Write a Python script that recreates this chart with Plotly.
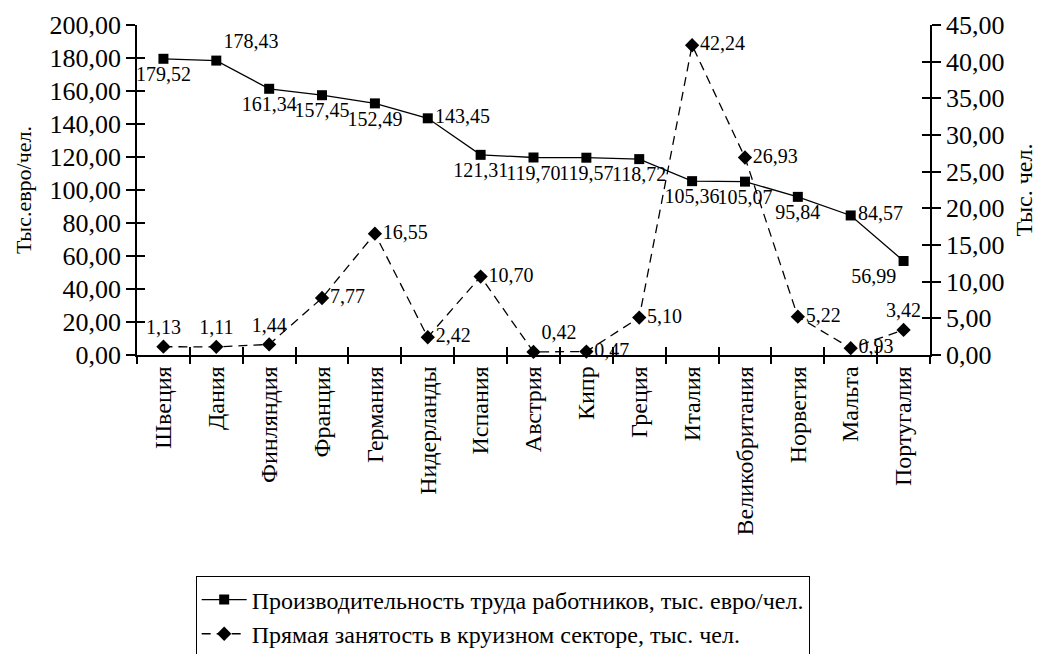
import plotly.graph_objects as go

categories = ["Швеция", "Дания", "Финляндия", "Франция", "Германия", "Нидерланды",
              "Испания", "Австрия", "Кипр", "Греция", "Италия", "Великобритания",
              "Норвегия", "Мальта", "Португалия"]
productivity = [179.52, 178.43, 161.34, 157.45, 152.49, 143.45, 121.31, 119.70,
                119.57, 118.72, 105.36, 105.07, 95.84, 84.57, 56.99]
employment = [1.13, 1.11, 1.44, 7.77, 16.55, 2.42, 10.70, 0.42, 0.47, 5.10,
              42.24, 26.93, 5.22, 0.93, 3.42]
left_ticks = [0, 20, 40, 60, 80, 100, 120, 140, 160, 180, 200]
right_ticks = [0, 5, 10, 15, 20, 25, 30, 35, 40, 45]

prod_pos = ["bottom center", "top right", "bottom center", "bottom center", "bottom center",
            "middle right", "bottom center", "bottom center", "bottom center", "bottom center",
            "bottom center", "bottom center", "bottom center", "middle right", "bottom left"]
emp_pos = ["top center", "top center", "top center", "middle right", "middle right",
           "middle right", "middle right", "top right", "middle right", "middle right",
           "middle right", "middle right", "middle right", "middle right", "top center"]

FONT = "Liberation Serif"
idx = list(range(len(categories)))

fig = go.Figure()
fig.add_trace(go.Scatter(
    x=idx, y=productivity, name="Производительность труда работников, тыс. евро/чел.",
    mode="lines+markers+text", line=dict(color="black", width=1.3),
    marker=dict(symbol="square", size=10, color="black"),
    text=[f"{v:.2f}".replace(".", ",") for v in productivity],
    textposition=prod_pos, textfont=dict(family=FONT, size=20, color="black"),
    yaxis="y", cliponaxis=False))
fig.add_trace(go.Scatter(
    x=idx, y=employment, name="Прямая занятость в круизном секторе, тыс. чел.",
    mode="lines+markers+text", line=dict(color="black", width=1.3, dash="9px,6px"),
    marker=dict(symbol="diamond", size=11, color="black"),
    text=[f"{v:.2f}".replace(".", ",") for v in employment],
    textposition=emp_pos, textfont=dict(family=FONT, size=20, color="black"),
    yaxis="y2", cliponaxis=False))

bounds = [i - 0.5 for i in range(len(categories) + 1)]

fig.update_layout(
    width=1034, height=646,
    margin=dict(l=129, r=112, t=17, b=299, autoexpand=False),
    paper_bgcolor="white", plot_bgcolor="white",
    separators=", ",
    font=dict(family=FONT, size=22, color="black"),
    showlegend=True,
    legend=dict(x=0.074, y=-0.671, xanchor="left", yanchor="top",
                bordercolor="black", borderwidth=1, bgcolor="white",
                font=dict(family=FONT, size=24, color="black"),
                tracegroupgap=0, itemwidth=45),
    xaxis=dict(range=[-0.5, len(categories) - 0.5], tickmode="array",
               tickvals=idx, ticktext=categories, tickangle=-90,
               ticks="", showline=True, linecolor="black", linewidth=1.5,
               showgrid=False, zeroline=False, automargin=False,
               tickfont=dict(family=FONT, size=24)),
    xaxis2=dict(range=[-0.5, len(categories) - 0.5], overlaying="x", side="bottom",
                anchor="y", tickmode="array", tickvals=bounds, ticks="outside",
                ticklen=8, tickwidth=1.5, tickcolor="black", showticklabels=False,
                showgrid=False, zeroline=False, showline=False, automargin=False),
    xaxis3=dict(range=[-0.5, len(categories) - 0.5], overlaying="x", side="bottom",
                anchor="y", tickmode="array", tickvals=bounds, ticks="inside",
                ticklen=8, tickwidth=1.5, tickcolor="black", showticklabels=False,
                showgrid=False, zeroline=False, showline=False, automargin=False),
    yaxis=dict(range=[0, 200], tickmode="array", tickvals=left_ticks,
               tickformat=".2f", ticks="outside", ticklen=9, tickwidth=1.5,
               tickcolor="black", showline=True, linecolor="black", linewidth=1.5,
               showgrid=False, zeroline=False, automargin=False,
               title=dict(text="Тыс.евро/чел.", font=dict(family=FONT, size=22), standoff=12),
               tickfont=dict(family=FONT, size=26)),
    yaxis2=dict(range=[0, 45], overlaying="y", side="right", tickmode="array",
                tickvals=right_ticks, tickformat=".2f", ticks="outside", ticklen=9,
                tickwidth=1.5, tickcolor="black", showline=True, linecolor="black",
                linewidth=1.5, showgrid=False, zeroline=False, automargin=False,
                title=dict(text="Тыс. чел.", font=dict(family=FONT, size=24), standoff=12),
                tickfont=dict(family=FONT, size=26)),
    yaxis3=dict(range=[0, 200], overlaying="y", side="left", tickmode="array",
                tickvals=left_ticks, ticks="inside", ticklen=8, tickwidth=1.5,
                tickcolor="black", showticklabels=False, showgrid=False,
                zeroline=False, showline=False, automargin=False),
    yaxis4=dict(range=[0, 45], overlaying="y", side="right", tickmode="array",
                tickvals=right_ticks, ticks="inside", ticklen=8, tickwidth=1.5,
                tickcolor="black", showticklabels=False, showgrid=False,
                zeroline=False, showline=False, automargin=False),
)

# invisible traces to activate helper axes
fig.add_trace(go.Scatter(x=[0], y=[0], xaxis="x2", yaxis="y", mode="markers",
                         marker=dict(opacity=0), showlegend=False, hoverinfo="skip"))
fig.add_trace(go.Scatter(x=[0], y=[0], xaxis="x3", yaxis="y", mode="markers",
                         marker=dict(opacity=0), showlegend=False, hoverinfo="skip"))
fig.add_trace(go.Scatter(x=[0], y=[0], xaxis="x", yaxis="y3", mode="markers",
                         marker=dict(opacity=0), showlegend=False, hoverinfo="skip"))
fig.add_trace(go.Scatter(x=[0], y=[0], xaxis="x", yaxis="y4", mode="markers",
                         marker=dict(opacity=0), showlegend=False, hoverinfo="skip"))

fig.write_html("out.html")
